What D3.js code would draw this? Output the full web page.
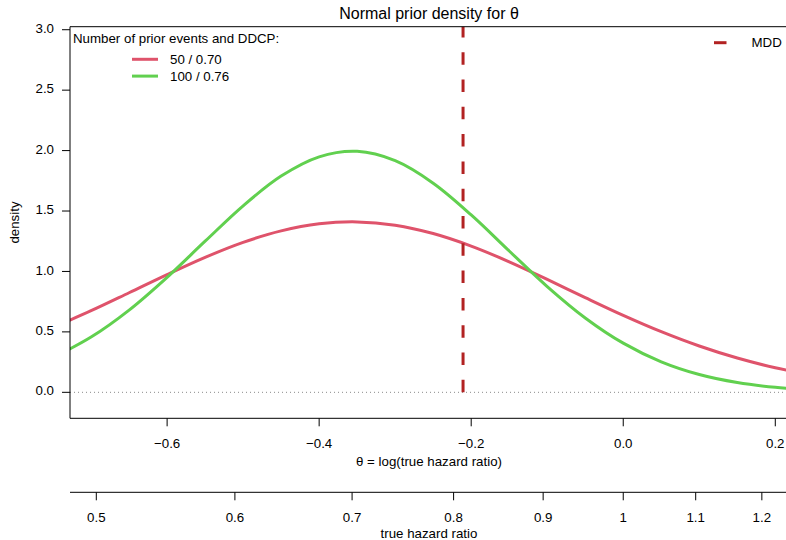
<!DOCTYPE html>
<html>
<head>
<meta charset="utf-8">
<script src="https://cdn.jsdelivr.net/npm/d3@7"></script>
<style>
  html, body { margin: 0; padding: 0; background: #fff; }
  svg { display: block; font-family: "Liberation Sans", Arial, Helvetica, sans-serif; }
</style>
</head>
<body>
<svg id="chart" width="786" height="540"></svg>
<script>
// theta = log(hazard ratio) grid at which the prior densities are tabulated
const thetaGrid = [-0.75, -0.70, -0.65, -0.60, -0.55, -0.50, -0.45, -0.40, -0.35, -0.30, -0.25,
                   -0.20, -0.15, -0.10, -0.05, 0.00, 0.05, 0.10, 0.15, 0.20, 0.25];

// prior density, 50 events / DDCP 0.70
const density50 = [0.5364, 0.6752, 0.8239, 0.9742, 1.1168, 1.2407, 1.3358, 1.3941, 1.4101, 1.3824, 1.3136,
                   1.2098, 1.0800, 0.9344, 0.7835, 0.6368, 0.5017, 0.3831, 0.2835, 0.2033, 0.1414];

// prior density, 100 events / DDCP 0.76
const density100 = [0.2885, 0.4572, 0.6805, 0.9518, 1.2503, 1.5432, 1.7891, 1.9485, 1.9936, 1.9161, 1.7301,
                    1.4675, 1.1693, 0.8753, 0.6155, 0.4066, 0.2523, 0.1471, 0.0806, 0.0414, 0.0200];

const seriesNames = ["50 / 0.70", "100 / 0.76"];
const seriesColors = ["#DF536B", "#61D04F"];

// minimal detectable difference on the hazard-ratio scale
const mddHR = 0.81;

const thetaTicks = [-0.6, -0.4, -0.2, 0.0, 0.2];
const densityTicks = [0, 0.5, 1.0, 1.5, 2.0, 2.5, 3.0];
const hrTicks = [0.5, 0.6, 0.7, 0.8, 0.9, 1, 1.1, 1.2];
const hrTickLabels = ["0.5", "0.6", "0.7", "0.8", "0.9", "1", "1.1", "1.2"];

// plotted hazard-ratio window and density window
const hrLimits = [0.483, 1.242];
const densityLimits = [-0.215, 3.025];

const svg = d3.select("#chart");
const pLeft = 70, pRight = 788, pTop = 26.7, pBottom = 418.3;
const fs = 13.3;
const fmtMinus = v => d3.format(".1f")(v).replace("-", "\u2212");

const x = d3.scaleLinear().domain(hrLimits.map(Math.log)).range([pLeft, pRight]);
const xHR = d3.scaleLog().domain(hrLimits).range([pLeft, pRight]);
const y = d3.scaleLinear().domain(densityLimits).range([pBottom, pTop]);

svg.append("defs").append("clipPath").attr("id", "plotclip")
  .append("rect").attr("x", pLeft).attr("y", pTop).attr("width", pRight - pLeft).attr("height", pBottom - pTop);

// title
svg.append("text").attr("x", (pLeft + pRight) / 2).attr("y", 13).attr("dy", "0.35em")
  .attr("text-anchor", "middle").attr("font-size", 16).text("Normal prior density for \u03b8");

// zero reference line
svg.append("line")
  .attr("x1", pLeft).attr("x2", pRight).attr("y1", y(0)).attr("y2", y(0))
  .attr("stroke", "#8a8a8a").attr("stroke-width", 1).attr("stroke-dasharray", "1,3");

const plot = svg.append("g").attr("clip-path", "url(#plotclip)");

const line = d3.line().curve(d3.curveCatmullRom.alpha(0.5))
  .x(d => x(d[0])).y(d => y(d[1]));

[density50, density100].forEach((vals, i) => {
  plot.append("path")
    .datum(thetaGrid.map((t, j) => [t, vals[j]]))
    .attr("d", line)
    .attr("fill", "none")
    .attr("stroke", seriesColors[i])
    .attr("stroke-width", 3)
    .attr("stroke-linejoin", "round");
});

// MDD marker
plot.append("line")
  .attr("x1", x(Math.log(mddHR))).attr("x2", x(Math.log(mddHR)))
  .attr("y1", y(0)).attr("y2", y(3.3))
  .attr("stroke", "#B22222").attr("stroke-width", 3).attr("stroke-dasharray", "12.5,14.8");

// plot frame (left, bottom, top)
svg.append("path")
  .attr("d", `M${pRight},${pTop}H${pLeft}V${pBottom}H${pRight}`)
  .attr("fill", "none").attr("stroke", "#000").attr("stroke-width", 1);

// y axis
const yAxis = svg.append("g").attr("font-size", fs);
densityTicks.forEach(v => {
  yAxis.append("line").attr("x1", pLeft - 8).attr("x2", pLeft).attr("y1", y(v)).attr("y2", y(v))
    .attr("stroke", "#000");
  yAxis.append("text").attr("x", pLeft - 16).attr("y", y(v) - 1.5).attr("dy", "0.35em")
    .attr("text-anchor", "end").text(d3.format(".1f")(v));
});
svg.append("text").attr("transform", `translate(14,${(pTop + pBottom) / 2}) rotate(-90)`)
  .attr("text-anchor", "middle").attr("dy", "0.35em").attr("font-size", fs).text("density");

// theta axis
const xAxis = svg.append("g").attr("font-size", fs);
thetaTicks.forEach(v => {
  xAxis.append("line").attr("x1", x(v)).attr("x2", x(v)).attr("y1", pBottom).attr("y2", pBottom + 8)
    .attr("stroke", "#000");
  xAxis.append("text").attr("x", x(v)).attr("y", 443.7).attr("dy", "0.35em")
    .attr("text-anchor", "middle").text(fmtMinus(v));
});
svg.append("text").attr("x", (pLeft + pRight) / 2).attr("y", 461).attr("dy", "0.35em")
  .attr("text-anchor", "middle").attr("font-size", fs).text("\u03b8 = log(true hazard ratio)");

// hazard ratio axis
const hrAxisY = 492.3;
const hrAxis = svg.append("g").attr("font-size", fs);
hrAxis.append("line").attr("x1", pLeft).attr("x2", pRight).attr("y1", hrAxisY).attr("y2", hrAxisY)
  .attr("stroke", "#000");
hrTicks.forEach((v, i) => {
  hrAxis.append("line").attr("x1", xHR(v)).attr("x2", xHR(v)).attr("y1", hrAxisY).attr("y2", hrAxisY + 8)
    .attr("stroke", "#000");
  hrAxis.append("text").attr("x", xHR(v)).attr("y", 517).attr("dy", "0.35em")
    .attr("text-anchor", "middle").text(hrTickLabels[i]);
});
svg.append("text").attr("x", (pLeft + pRight) / 2).attr("y", 533.5).attr("dy", "0.35em")
  .attr("text-anchor", "middle").attr("font-size", fs).text("true hazard ratio");

// series legend
const leg = svg.append("g").attr("font-size", fs);
leg.append("text").attr("x", 73).attr("y", 38.5).attr("dy", "0.35em")
  .text("Number of prior events and DDCP:");
seriesNames.forEach((name, i) => {
  const ly = 59.3 + i * 16.8;
  leg.append("line").attr("x1", 132).attr("x2", 158).attr("y1", ly).attr("y2", ly)
    .attr("stroke", seriesColors[i]).attr("stroke-width", 3);
  leg.append("text").attr("x", 170).attr("y", ly).attr("dy", "0.35em").text(name);
});

// MDD legend
const leg2 = svg.append("g").attr("font-size", fs);
leg2.append("line").attr("x1", 714).attr("x2", 740).attr("y1", 42.7).attr("y2", 42.7)
  .attr("stroke", "#B22222").attr("stroke-width", 3).attr("stroke-dasharray", "12.5,14.8");
leg2.append("text").attr("x", 751.5).attr("y", 42.7).attr("dy", "0.35em").text("MDD");
</script>
</body>
</html>
